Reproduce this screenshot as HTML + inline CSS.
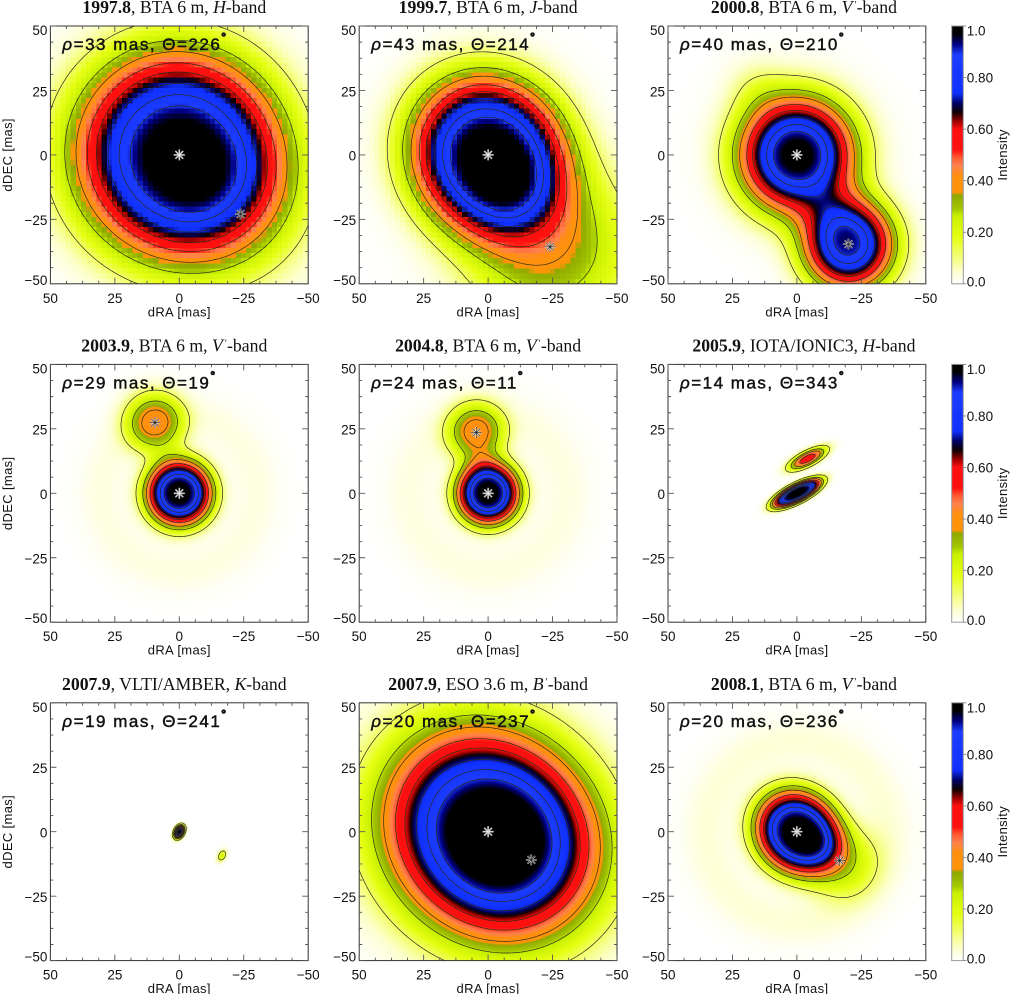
<!DOCTYPE html>
<html lang="en">
<head>
<meta charset="utf-8">
<title>Binary star reconstructed images, 1997–2008</title>
<style>
  html, body { margin: 0; padding: 0; background: #fff; }
  #figure { position: relative; width: 1010px; height: 994px; overflow: hidden; background: #fff; }
  #figure canvas { position: absolute; display: block; }
  #overlay { position: absolute; left: 0; top: 0; }
  .tick-label { font-family: "Liberation Sans", sans-serif; font-size: 13.5px; fill: #111; }
  .axis-title { font-family: "Liberation Sans", sans-serif; font-size: 13px; fill: #111; letter-spacing: .35px; }
  .panel-title { font-family: "Liberation Serif", serif; font-size: 17.7px; fill: #111; }
  .annotation { font-family: "Liberation Sans", sans-serif; font-size: 17px; fill: #111; stroke: #111; stroke-width: .45px; letter-spacing: 1.5px; }
</style>
</head>
<body>
<div id="figure">
  <svg id="overlay" width="1010" height="994" viewBox="0 0 1010 994" xmlns="http://www.w3.org/2000/svg"></svg>
</div>
<script>
// ---- Panel captions ----
const epochs      = ['1997.8','1999.7','2000.8','2003.9','2004.8','2005.9','2007.9','2007.9','2008.1'];
const instruments = ['BTA 6 m','BTA 6 m','BTA 6 m','BTA 6 m','BTA 6 m','IOTA/IONIC3','VLTI/AMBER','ESO 3.6 m','BTA 6 m'];
const bands       = ['H','J','V','V','V','H','K','B','V'];
const bandPrimes  = [0,0,1,1,1,0,0,1,1];

// ---- Binary separation and position angle (mas, degrees) ----
const rhoValues   = [33,43,40,29,24,14,19,20,20];
const thetaValues = [226,214,210,19,11,343,241,237,236];
const starMarkers = [1,1,1,1,1,0,0,1,1];

// ---- Primary component of each image ----
const primaryAmp   = [1.00,1.00,1.00,1.00,1.00,1.00,1.00,1.00,1.00];
const primaryMajor = [41,31.5,22.5,12.9,12.3,10.6,2.7,43,17];
const primaryMinor = [40,29.5,22.5,12.9,12.3,3.5,1.8,38.5,15.5];
const primaryAngle = [45,35,0,0,0,117,-27,45,45];
const primaryPower = [2.9,2.9,2.5,2.9,2.9,3.4,2.6,2.7,3];

// ---- Secondary component of each image ----
const secondaryAmp   = [0.10,0.36,0.92,0.40,0.40,0.56,0.24,0.14,0.27];
const secondaryMajor = [30,31,17.6,11.5,11.2,8,2.3,34,13.5];
const secondaryMinor = [30,31,17.6,11.5,11.2,2.8,1.5,34,13.5];
const secondaryAngle = [45,35,0,0,0,117,-27,45,45];
const secondaryPower = [2.2,2.2,2.5,2.5,2.5,2.5,2,2.2,2.2];

// ---- Faint flare component of each image ----
const flareAmp   = [0,0,0.07,0,0,0,0,0,0];
const flareRA    = [0,0,16,0,0,0,0,0,0];
const flareDEC   = [0,0,26,0,0,0,0,0,0];
const flareWidth = [1,1,11,1,1,1,1,1,1];

// ---- Faint surrounding ring of each image ----
const ringAmp    = [0,0,0,0.03,0.03,0,0,0,0.04];
const ringRadius = [0,0,0,30,30,0,0,0,35];
const ringWidth  = [1,1,1,9,10,1,1,1,9];

// ---- Image resolution (cells per side) ----
const gridCells = [50,50,256,256,256,256,256,256,256];

// ---- Axes and colour scale ----
const axisTicks       = [50,25,0,-25,-50];
const contourLevels   = [0.12,0.27,0.38,0.5,0.6,0.72,0.82,0.9];
const colorbarTicks   = [0,0.2,0.4,0.6,0.8,1];
const colorbarLabels  = ['0.0','0.20','0.40','0.60','0.80','1.0'];
const colorStopValues = [0,0.05,0.10,0.18,0.265,0.29,0.345,0.355,0.42,0.46,0.49,0.52,0.60,0.63,0.665,0.70,0.74,0.89,0.93,0.97,1];
const colorStopHex    = ['#ffffff','#fcffcc','#f5ff80','#e6ff12','#c8f000','#a4c800','#90a800','#ff9408','#ff9010','#ff8050','#ff5a30','#ff1010','#ff1010','#a00000','#100000','#000060','#1030ff','#1c3cff','#000080','#000000','#000000'];

const COL_LEFT = [50.4, 359.2, 668];
const ROW_TOP  = [26, 364.4, 702.8];
const TITLE_SHIFT = [-5, 0, 7];
const SIZE = 257.8;
const NS = 'http://www.w3.org/2000/svg';
const overlay = document.getElementById('overlay');
const figure = document.getElementById('figure');

function svgEl(tag, attrs, parent) {
  const el = document.createElementNS(NS, tag);
  for (const k in attrs) el.setAttribute(k, attrs[k]);
  (parent || overlay).appendChild(el);
  return el;
}
const stopRgb = colorStopHex.map(h => [parseInt(h.slice(1,3),16), parseInt(h.slice(3,5),16), parseInt(h.slice(5,7),16)]);
function colorOf(v) {
  v = Math.max(0, Math.min(1, v));
  let i = 0;
  while (i < colorStopValues.length - 2 && v > colorStopValues[i + 1]) i++;
  const t = (v - colorStopValues[i]) / (colorStopValues[i + 1] - colorStopValues[i]);
  const a = stopRgb[i], b = stopRgb[i + 1];
  return [a[0] + (b[0] - a[0]) * t, a[1] + (b[1] - a[1]) * t, a[2] + (b[2] - a[2]) * t];
}
function lobe(x, y, x0, y0, amp, major, minor, angle, power) {
  const t = angle * Math.PI / 180;
  const dx = x - x0, dy = y - y0;
  const u = dx * Math.sin(t) + dy * Math.cos(t);
  const v = dx * Math.cos(t) - dy * Math.sin(t);
  const q = Math.sqrt((u / major) * (u / major) + (v / minor) * (v / minor));
  return amp * Math.exp(-Math.pow(q, power));
}
function secondaryX(i) { return rhoValues[i] * Math.sin(thetaValues[i] * Math.PI / 180); }
function secondaryY(i) { return rhoValues[i] * Math.cos(thetaValues[i] * Math.PI / 180); }
function intensity(i, x, y) {
  let val = lobe(x, y, 0, 0, primaryAmp[i], primaryMajor[i], primaryMinor[i], primaryAngle[i], primaryPower[i]);
  val += lobe(x, y, secondaryX(i), secondaryY(i), secondaryAmp[i], secondaryMajor[i], secondaryMinor[i], secondaryAngle[i], secondaryPower[i]);
  if (flareAmp[i] > 0) val += lobe(x, y, flareRA[i], flareDEC[i], flareAmp[i], flareWidth[i], flareWidth[i], 0, 2);
  if (ringAmp[i] > 0) {
    const r = Math.sqrt(x * x + y * y);
    const d = (r - ringRadius[i]) / ringWidth[i];
    val += ringAmp[i] * Math.exp(-d * d);
  }
  return val;
}
function contourPath(i, level, sx, sy) {
  const n = 160, step = 100 / n;
  const vals = [];
  for (let r = 0; r <= n; r++) {
    const row = [];
    for (let c = 0; c <= n; c++) row.push(intensity(i, 50 - c * step, 50 - r * step));
    vals.push(row);
  }
  let d = '';
  for (let r = 0; r < n; r++) for (let c = 0; c < n; c++) {
    const a = vals[r][c], b = vals[r][c + 1], e = vals[r + 1][c + 1], f = vals[r + 1][c];
    const pts = [];
    const x0 = 50 - c * step, y0 = 50 - r * step;
    if ((a < level) !== (b < level)) pts.push([x0 - step * (level - a) / (b - a), y0]);
    if ((b < level) !== (e < level)) pts.push([x0 - step, y0 - step * (level - b) / (e - b)]);
    if ((f < level) !== (e < level)) pts.push([x0 - step * (level - f) / (e - f), y0 - step]);
    if ((a < level) !== (f < level)) pts.push([x0, y0 - step * (level - a) / (f - a)]);
    for (let p = 0; p + 1 < pts.length; p += 2) {
      d += 'M' + sx(pts[p][0]).toFixed(2) + ' ' + sy(pts[p][1]).toFixed(2) + 'L' + sx(pts[p + 1][0]).toFixed(2) + ' ' + sy(pts[p + 1][1]).toFixed(2);
    }
  }
  return d;
}
function drawStar(group, cx, cy, radius, light, lightWidth, dark, darkWidth) {
  for (let a = 0; a < 4; a++) {
    const t = a * Math.PI / 4;
    const dx = radius * Math.cos(t), dy = radius * Math.sin(t);
    svgEl('line', {x1: cx - dx, y1: cy - dy, x2: cx + dx, y2: cy + dy, stroke: light, 'stroke-width': lightWidth}, group);
  }
  for (let a = 0; a < 4; a++) {
    const t = a * Math.PI / 4;
    const dx = radius * Math.cos(t), dy = radius * Math.sin(t);
    svgEl('line', {x1: cx - dx, y1: cy - dy, x2: cx + dx, y2: cy + dy, stroke: dark, 'stroke-width': darkWidth}, group);
  }
}
function drawTicks(group, left, top, sx, sy) {
  let d = '';
  for (let m = -50; m <= 50; m += 6.25) {
    const major = axisTicks.indexOf(m) >= 0;
    const len = major ? 6 : 3;
    const px = sx(m), py = sy(m);
    d += 'M' + px + ' ' + (top + SIZE) + 'v' + (-len) + 'M' + px + ' ' + top + 'v' + len;
    d += 'M' + left + ' ' + py + 'h' + len + 'M' + (left + SIZE) + ' ' + py + 'h' + (-len);
  }
  svgEl('path', {d: d, stroke: '#555', 'stroke-width': .9, fill: 'none'}, group);
}
function yLabelShift(t) {
  if (t === axisTicks[0]) return 4.2;
  if (t === axisTicks[axisTicks.length - 1]) return -3.8;
  return 1;
}

epochs.forEach(function (epoch, i) {
  const col = i % 3, row = Math.floor(i / 3);
  const left = COL_LEFT[col], top = ROW_TOP[row];
  const sx = function (x) { return left + (50 - x) * SIZE / 100; };
  const sy = function (y) { return top + (50 - y) * SIZE / 100; };

  // heatmap cells
  const n = gridCells[i];
  const cv = document.createElement('canvas');
  
  
  cv.width = n; cv.height = n;
  cv.style.left = left + 'px';
  cv.style.top = top + 'px';
  cv.style.width = SIZE + 'px';
  cv.style.height = SIZE + 'px';
  if (n < 100) cv.style.imageRendering = 'pixelated';
  const ctx = cv.getContext('2d');
  const img = ctx.createImageData(n, n);
  for (let r = 0; r < n; r++) for (let c = 0; c < n; c++) {
    const x = 50 - (c + 0.5) * 100 / n, y = 50 - (r + 0.5) * 100 / n;
    const rgb = colorOf(intensity(i, x, y));
    const o = (r * n + c) * 4;
    img.data[o] = rgb[0]; img.data[o + 1] = rgb[1]; img.data[o + 2] = rgb[2]; img.data[o + 3] = 255;
  }
  ctx.putImageData(img, 0, 0);
  figure.insertBefore(cv, overlay);

  const panel = svgEl('g', {});
  
  

  // contours
  const clipId = 'clip-' + i;
  const clip = svgEl('clipPath', {id: clipId}, panel);
  svgEl('rect', {x: left, y: top, width: SIZE, height: SIZE}, clip);
  const contours = svgEl('g', {'clip-path': 'url(#' + clipId + ')', fill: 'none', stroke: '#2a2a1a', 'stroke-width': .7}, panel);
  
  
  contourLevels.forEach(function (level) {
    const path = svgEl('path', {d: contourPath(i, level, sx, sy)}, contours);
    
    
  });

  // component markers
  if (starMarkers[i]) {
    const primaryStar = svgEl('g', {}, panel);
    
    
    drawStar(primaryStar, sx(0), sy(0), 5.5, '#a8a8a8', 1.7, '#f0f0f0', .6);
    const secondaryStar = svgEl('g', {}, panel);
    
    
    drawStar(secondaryStar, sx(secondaryX(i)), sy(secondaryY(i)), 5.5, '#e8e8e8', 1.6, '#111', .6);
  }

  // frame and ticks
  const frame = svgEl('rect', {x: left, y: top, width: SIZE, height: SIZE, fill: 'none', stroke: '#333', 'stroke-width': 1}, panel);
  
  
  const ticks = svgEl('g', {}, panel);
  
  
  drawTicks(ticks, left, top, sx, sy);

  // tick labels
  axisTicks.forEach(function (t) {
    const xl = svgEl('text', {x: sx(t), y: top + SIZE + 19, 'text-anchor': 'middle', 'class': 'tick-label'}, panel);
    xl.textContent = String(t).replace('-', '\u2212');
    
    
    const yl = svgEl('text', {x: left - 3, y: sy(t) + 4.8 + yLabelShift(t), 'text-anchor': 'end', 'class': 'tick-label'}, panel);
    yl.textContent = String(t).replace('-', '\u2212');
    
    
  });

  // axis titles
  const xTitle = svgEl('text', {x: left + SIZE / 2, y: top + SIZE + 32.5, 'text-anchor': 'middle', 'class': 'axis-title'}, panel);
  xTitle.textContent = 'dRA [mas]';
  
  
  if (col === 0) {
    const yTitle = svgEl('text', {x: 0, y: 0, 'text-anchor': 'middle', 'class': 'axis-title', transform: 'translate(12 ' + (top + SIZE / 2) + ') rotate(-90)'}, panel);
    yTitle.textContent = 'dDEC [mas]';
    
    
  }

  // panel title
  const title = svgEl('text', {x: left + SIZE / 2 + TITLE_SHIFT[col], y: top - 13, 'text-anchor': 'middle', 'class': 'panel-title'}, panel);
  
  
  svgEl('tspan', {'font-weight': 'bold'}, title).textContent = epoch;
  svgEl('tspan', {}, title).textContent = ', ' + instruments[i] + ', ';
  svgEl('tspan', {'font-style': 'italic'}, title).textContent = bands[i];
  if (bandPrimes[i]) svgEl('tspan', {'font-size': '10', dy: '-5', dx: '2'}, title).textContent = '\u2032';
  svgEl('tspan', bandPrimes[i] ? {dy: '5'} : {}, title).textContent = '-band';

  // separation annotation
  const note = svgEl('text', {x: left + 12, y: top + 24, 'class': 'annotation'}, panel);
  
  
  svgEl('tspan', {'font-style': 'italic'}, note).textContent = '\u03C1';
  svgEl('tspan', {}, note).textContent = '=' + rhoValues[i] + ' mas, \u0398=' + thetaValues[i];
  svgEl('tspan', {dy: '-9', 'font-size': '12', 'stroke-width': '1.2'}, note).textContent = '\u00B0';

  // colour bar on the right-hand column
  if (col === 2) {
    const barLeft = 951.7, barWidth = 11.6;
    const bar = document.createElement('canvas');
    
    
    bar.width = 1; bar.height = 256;
    bar.style.left = barLeft + 'px';
    bar.style.top = top + 'px';
    bar.style.width = barWidth + 'px';
    bar.style.height = SIZE + 'px';
    const bctx = bar.getContext('2d');
    for (let r = 0; r < 256; r++) {
      const rgb = colorOf(1 - (r + 0.5) / 256);
      bctx.fillStyle = 'rgb(' + Math.round(rgb[0]) + ',' + Math.round(rgb[1]) + ',' + Math.round(rgb[2]) + ')';
      bctx.fillRect(0, r, 1, 1);
    }
    figure.insertBefore(bar, overlay);
    const barFrame = svgEl('rect', {x: barLeft, y: top, width: barWidth, height: SIZE, fill: 'none', stroke: '#999', 'stroke-width': 1}, panel);
    
    
    colorbarTicks.forEach(function (v, k) {
      const py = top + SIZE * (1 - v);
      svgEl('line', {x1: barLeft + barWidth, x2: barLeft + barWidth + 3, y1: py, y2: py, stroke: '#777', 'stroke-width': .8}, panel);
      const nudge = v === 1 ? 4.7 : (v === 0 ? -2.3 : 0);
      const lab = svgEl('text', {x: barLeft + barWidth + 3.5, y: py + 5 + nudge, 'class': 'tick-label'}, panel);
      lab.textContent = colorbarLabels[k];
      
      
    });
    const barTitle = svgEl('text', {x: 0, y: 0, 'text-anchor': 'middle', 'class': 'axis-title', transform: 'translate(1007 ' + (top + SIZE / 2) + ') rotate(-90)'}, panel);
    barTitle.textContent = 'Intensity';
    
    
  }
});
</script>
</body>
</html>
